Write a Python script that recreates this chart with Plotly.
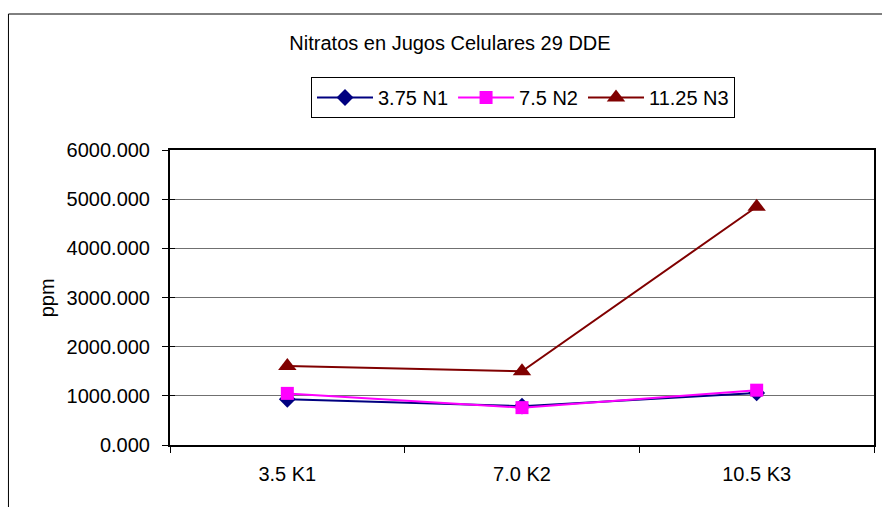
import plotly.graph_objects as go

# Nitrate concentration (ppm) in cell sap, 29 DDE
categories = ["3.5 K1", "7.0 K2", "10.5 K3"]
series_names = ["3.75 N1", "7.5 N2", "11.25 N3"]
n1_values = [930, 790, 1060]
n2_values = [1050, 760, 1115]
n3_values = [1605, 1500, 4845]
y_ticks = [0, 1000, 2000, 3000, 4000, 5000, 6000]

FONT = "Arial, Liberation Sans, sans-serif"
FS = 20
W, H = 882, 507
L, R, T, B = 170, 6, 150, 62

styles = [
    dict(color="#000080", symbol="diamond", size=13),
    dict(color="#FF00FF", symbol="square", size=13),
    dict(color="#800000", symbol="triangle-up", size=16),
]

fig = go.Figure()
for name, vals, st in zip(series_names, [n1_values, n2_values, n3_values], styles):
    fig.add_trace(go.Scatter(
        x=categories, y=vals, name=name, mode="lines+markers",
        line=dict(color=st["color"], width=2),
        marker=dict(color=st["color"], symbol=st["symbol"], size=st["size"],
                    line=dict(width=0)),
    ))

# invisible trace to drive the inner tick marks on the value axis
fig.add_trace(go.Scatter(x=categories, y=[None] * 3, yaxis="y2",
                         showlegend=False, hoverinfo="skip"))

pw = W - L - R
ph = H - T - B

fig.update_layout(
    width=W, height=H,
    margin=dict(l=L, r=R, t=T, b=B, pad=0),
    paper_bgcolor="white", plot_bgcolor="white",
    font=dict(family=FONT, size=FS, color="black"),
    title=dict(text="Nitratos en Jugos Celulares 29 DDE",
               xref="container", yref="container",
               x=450 / W, xanchor="center", y=1 - 43 / H, yanchor="middle",
               font=dict(family=FONT, size=FS, color="black")),
    showlegend=True,
    legend=dict(orientation="h", xref="container", yref="container",
                x=523 / W, xanchor="center", y=1 - 77 / H, yanchor="top",
                bordercolor="black", borderwidth=1, bgcolor="white",
                font=dict(family=FONT, size=FS, color="black"),
                itemwidth=56, tracegroupgap=0),
    xaxis=dict(type="category", range=[-0.5, 2.5], tickson="boundaries",
               ticks="outside", ticklen=6, tickcolor="black", tickwidth=1,
               showline=True, linecolor="black", linewidth=2, mirror=True,
               showgrid=False, zeroline=False, ticklabelstandoff=10,
               tickfont=dict(family=FONT, size=FS)),
    yaxis=dict(range=[0, 6000], tickvals=y_ticks, tickformat=".3f",
               ticks="outside", ticklen=6, tickcolor="black", tickwidth=1,
               showline=True, linecolor="black", linewidth=2, mirror=True,
               showgrid=True, gridcolor="#707070", gridwidth=1,
               zeroline=False, ticklabelstandoff=8,
               tickfont=dict(family=FONT, size=FS)),
    yaxis2=dict(range=[0, 6000], tickvals=y_ticks, overlaying="y", side="left",
                ticks="inside", ticklen=5, tickcolor="black", tickwidth=1,
                showticklabels=False, showgrid=False, zeroline=False,
                showline=False),
    annotations=[dict(text="ppm", textangle=-90, showarrow=False,
                      xref="paper", yref="paper",
                      x=(47 - L) / pw, y=(H - B - 298) / ph,
                      xanchor="center", yanchor="middle",
                      font=dict(family=FONT, size=FS, color="black"))],
    shapes=[dict(type="rect", xref="paper", yref="paper", layer="below",
                 x0=(8 - L) / pw, x1=(W + 20 - L) / pw,
                 y0=-(B + 30) / ph, y1=(H - B - 14) / ph,
                 line=dict(color="black", width=1), fillcolor="rgba(0,0,0,0)")],
)

fig.write_html("out.html")
